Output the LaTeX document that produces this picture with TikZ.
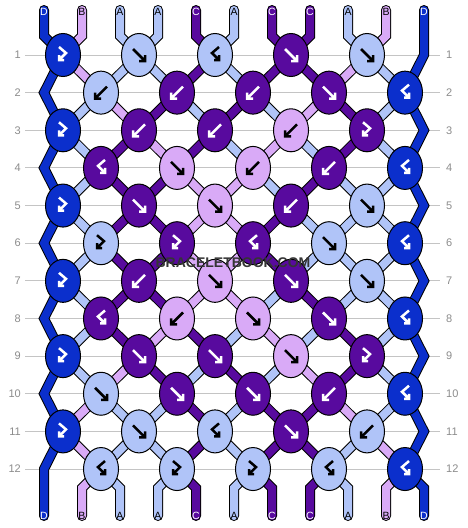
\documentclass[tikz,border=0pt]{standalone}
\usepackage{fontspec}
\setsansfont{Liberation Sans}
\usetikzlibrary{shapes.geometric, backgrounds}
\definecolor{bbD}{HTML}{0B2FCC}
\definecolor{bbB}{HTML}{D9AAF7}
\definecolor{bbA}{HTML}{B0C4F8}
\definecolor{bbC}{HTML}{580A9E}
\definecolor{bbgrid}{HTML}{C4C4C4}
\definecolor{bbnum}{HTML}{8C8C8C}
\definecolor{bbmark}{HTML}{353535}
\colorlet{inkD}{white}
\colorlet{inkC}{white}
\colorlet{inkA}{black}
\colorlet{inkB}{black}
\newcommand\knotfwd[2]{\draw[symbol, #2, shift={(#1.center)}] (-6,-6) -- (6,6) (0,6) -- (6,6) -- (6,0);}
\newcommand\knotbwd[2]{\draw[symbol, #2, shift={(#1.center)}] (6,-6) -- (-6,6) (0,6) -- (-6,6) -- (-6,0);}
\newcommand\knotfb[2]{\draw[symbol, #2, shift={(#1.center)}] (-4,-8) -- (3,-2) -- (-4,5) (1,5) -- (-4,5) -- (-4,0);}
\newcommand\knotbf[2]{\draw[symbol, #2, shift={(#1.center)}] (4,-8) -- (-3,-2) -- (4,5) (-1,5) -- (4,5) -- (4,0);}

\begin{document}
\begin{tikzpicture}[x=1pt, y=-1pt,
  knot/.style={ellipse, draw=black, line width=1pt, minimum width=35pt, minimum height=43pt, inner sep=0pt},
  strand/.style={draw=black, line width=1pt, double=#1, double distance=8pt, line cap=round},
  symbol/.style={line width=2.5pt, line join=miter},
  gridline/.style={bbgrid, line width=1pt},
  rownum/.style={text=bbnum, font=\sffamily\fontsize{11}{11}\selectfont, inner sep=0pt},
  tag/.style={font=\sffamily\fontsize{10.5}{11}\selectfont, inner sep=0pt},
]
\useasboundingbox (0,0) rectangle (468,528);

% knots, row by row
\foreach \rw/\row in {
  1/{D/fb,A/fwd,A/bf,C/fwd,A/fwd},
  2/{A/bwd,C/bwd,C/bwd,C/fwd,D/bf},
  3/{D/fb,C/bwd,C/bwd,B/bwd,C/fb},
  4/{C/bf,B/fwd,B/bwd,C/bwd,D/bf},
  5/{D/fb,C/fwd,B/fwd,C/bwd,A/fwd},
  6/{A/fb,C/fb,C/bf,A/fwd,D/bf},
  7/{D/fb,C/bwd,B/fwd,C/fwd,A/fwd},
  8/{C/bf,B/bwd,B/fwd,C/fwd,D/bf},
  9/{D/fb,C/fwd,C/fwd,B/fwd,C/fb},
  10/{A/fwd,C/fwd,C/fwd,C/bwd,D/bf},
  11/{D/fb,A/fwd,A/bf,C/fwd,A/bwd},
  12/{A/bf,A/fb,A/fb,A/bf,D/bf}} {
  \pgfmathsetmacro\yy{55+37.64*(\rw-1)}
  \pgfmathsetmacro\xs{isodd(\rw) ? 63 : 101}
  \coordinate (e\rw) at (44,\yy);
  \coordinate (f\rw) at (424,\yy);
  \foreach \kc/\kt [count=\kj from 0] in \row {
    \node[knot, fill=bb\kc] (k\rw-\kj) at (\xs+76*\kj,\yy) {};
    \csname knot\kt\endcsname{k\rw-\kj}{ink\kc}
  }
}

\begin{scope}[on background layer]
\fill[white] (0,0) rectangle (468,528);
% row lines and numbers
\foreach \rw in {1,...,12} {
  \pgfmathsetmacro\yy{55+37.64*(\rw-1)}
  \draw[gridline] (25,\yy) -- (440,\yy);
  \node[rownum, anchor=east] (ln\rw) at (21,\yy) {\rw};
  \node[rownum, anchor=west] (rn\rw) at (446,\yy) {\rw};
}
% edge strings
\draw[strand=bbD, line join=miter] (44,10) -- (44,36) -- (k1-0.center) -- (e2) -- (k3-0.center) -- (e4) -- (k5-0.center) -- (e6) -- (k7-0.center) -- (e8) -- (k9-0.center) -- (e10) -- (k11-0.center) -- (e12) -- (44,488) -- (44,516);
\draw[strand=bbD, line join=miter] (424,10) -- (f1) -- (k2-4.center) -- (f3) -- (k4-4.center) -- (f5) -- (k6-4.center) -- (f7) -- (k8-4.center) -- (f9) -- (k10-4.center) -- (f11) -- (k12-4.center) -- (424,488) -- (424,516);
% inner strings, colours after each row
\foreach \rw/\str in {
  0/{B,A,A,C,A,C,C,A,B},
  1/{B,A,A,C,A,C,C,B,A},
  2/{A,B,C,A,C,A,B,C,A},
  3/{A,C,B,C,A,B,A,C,A},
  4/{A,C,C,B,B,A,C,A,A},
  5/{A,C,C,B,B,C,A,A,A},
  6/{A,C,C,B,B,C,A,A,A},
  7/{A,C,C,B,B,A,C,A,A},
  8/{A,C,B,C,A,B,A,C,A},
  9/{A,B,C,A,C,A,B,C,A},
  10/{B,A,A,C,A,C,C,B,A},
  11/{B,A,A,C,A,C,C,A,B},
  12/{B,A,A,C,A,C,C,A,B}} {
  \foreach \sc [count=\si] in \str {
    \pgfmathsetmacro\sx{44+38*\si}
    \pgfmathtruncatemacro\rn{\rw+1}
    \pgfmathtruncatemacro\ja{isodd(\rw) ? floor(\si/2) : floor((\si-1)/2)}
    \pgfmathtruncatemacro\jb{isodd(\rn) ? floor(\si/2) : floor((\si-1)/2)}
    \ifnum\rw=0
      \draw[strand=bb\sc] (\sx,10) -- (\sx,36) -- (k1-\jb.center);
    \else\ifnum\rw=12
      \draw[strand=bb\sc] (k12-\ja.center) -- (\sx,488) -- (\sx,516);
    \else
      \draw[strand=bb\sc] (k\rw-\ja.center) -- (k\rn-\jb.center);
    \fi\fi
  }
}
\end{scope}

% string letters
\foreach \sc [count=\si from 0] in {D,B,A,A,C,A,C,C,A,B,D} {
  \node[tag, text=ink\sc] (top\si) at (44+38*\si,12) {\sc};
  \node[tag, text=ink\sc] (bot\si) at (44+38*\si,516) {\sc};
}

\node[font=\sffamily\bfseries\fontsize{14}{14}\selectfont, text=bbmark, inner sep=0pt] (mark) at (233,263) {BRACELETBOOK.COM};
\end{tikzpicture}
\end{document}
